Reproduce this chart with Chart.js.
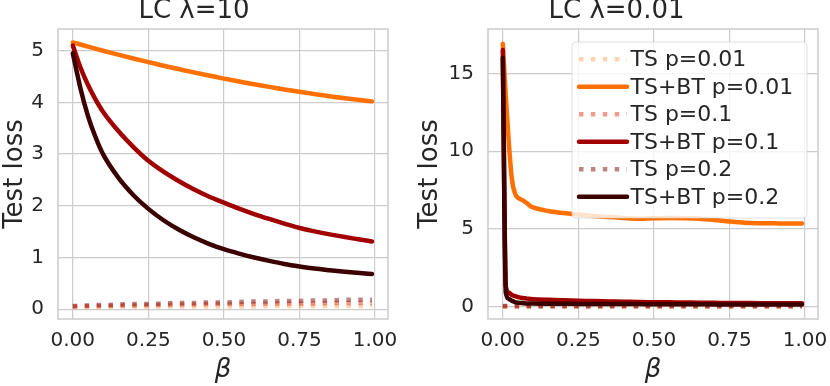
<!DOCTYPE html>
<html>
<head>
<meta charset="utf-8">
<script src="https://cdn.jsdelivr.net/npm/chart.js@4.4.1/dist/chart.umd.min.js"></script>
<style>
  html, body { margin: 0; padding: 0; background: #fff; }
  #wrap { position: relative; width: 830px; height: 386px; }
  canvas { position: absolute; top: 0; }
  #left { left: 0; }
  #right { left: 415px; }
</style>
</head>
<body>
<div id="wrap">
  <canvas id="left" width="415" height="386"></canvas>
  <canvas id="right" width="415" height="386"></canvas>
</div>
<script>
// Series names (legend order)
const seriesNames = ['TS p=0.01', 'TS+BT p=0.01', 'TS p=0.1', 'TS+BT p=0.1', 'TS p=0.2', 'TS+BT p=0.2'];

// Left panel: LC lambda=10
const betaLeft = [0, 0.025, 0.05, 0.075, 0.1, 0.15, 0.2, 0.25, 0.3, 0.35, 0.4, 0.45, 0.5, 0.55, 0.6, 0.65, 0.7, 0.75, 0.8, 0.85, 0.9, 0.95, 0.99];
const leftTS001   = [0.04, 0.04, 0.04, 0.04, 0.04, 0.05, 0.05, 0.05, 0.05, 0.05, 0.05, 0.05, 0.05, 0.05, 0.05, 0.06, 0.06, 0.06, 0.06, 0.06, 0.06, 0.06, 0.06];
const leftTSBT001 = [5.16, 5.12, 5.08, 5.04, 5.00, 4.925, 4.85, 4.78, 4.71, 4.645, 4.58, 4.52, 4.46, 4.405, 4.35, 4.30, 4.25, 4.205, 4.16, 4.12, 4.08, 4.045, 4.02];
const leftTS01    = [0.05, 0.05, 0.06, 0.06, 0.06, 0.07, 0.07, 0.08, 0.08, 0.09, 0.09, 0.10, 0.10, 0.10, 0.10, 0.11, 0.11, 0.11, 0.11, 0.12, 0.12, 0.12, 0.12];
const leftTSBT01  = [5.10, 4.68, 4.34, 4.06, 3.82, 3.45, 3.14, 2.87, 2.66, 2.48, 2.32, 2.18, 2.06, 1.945, 1.84, 1.745, 1.655, 1.57, 1.505, 1.447, 1.395, 1.348, 1.31];
const leftTS02    = [0.06, 0.07, 0.07, 0.08, 0.08, 0.09, 0.10, 0.10, 0.11, 0.12, 0.12, 0.13, 0.13, 0.14, 0.15, 0.15, 0.16, 0.16, 0.17, 0.17, 0.18, 0.18, 0.18];
const leftTSBT02  = [4.95, 4.28, 3.74, 3.33, 3.00, 2.55, 2.21, 1.94, 1.72, 1.54, 1.39, 1.265, 1.16, 1.075, 1.00, 0.934, 0.874, 0.826, 0.785, 0.754, 0.726, 0.70, 0.68];

// Right panel: LC lambda=0.01
const betaRight = [0, 0.01, 0.02, 0.03, 0.04, 0.05, 0.06, 0.07, 0.08, 0.09, 0.1, 0.15, 0.2, 0.25, 0.3, 0.35, 0.4, 0.45, 0.5, 0.55, 0.6, 0.65, 0.7, 0.75, 0.8, 0.85, 0.9, 0.95, 0.99];
const rightTS001   = [0.02, 0.02, 0.02, 0.02, 0.02, 0.02, 0.02, 0.02, 0.02, 0.02, 0.02, 0.02, 0.02, 0.02, 0.02, 0.02, 0.02, 0.02, 0.02, 0.02, 0.02, 0.02, 0.02, 0.02, 0.02, 0.02, 0.02, 0.02, 0.02];
const rightTSBT001 = [16.9, 13.5, 10.5, 8.2, 7.3, 7.0, 6.9, 6.78, 6.65, 6.48, 6.38, 6.15, 6.02, 5.92, 5.83, 5.76, 5.70, 5.66, 5.68, 5.70, 5.69, 5.66, 5.58, 5.48, 5.40, 5.37, 5.36, 5.35, 5.35];
const rightTS01    = [0.03, 0.03, 0.03, 0.03, 0.03, 0.03, 0.03, 0.03, 0.03, 0.03, 0.03, 0.03, 0.03, 0.03, 0.03, 0.03, 0.03, 0.03, 0.03, 0.03, 0.03, 0.03, 0.03, 0.03, 0.03, 0.03, 0.03, 0.03, 0.03];
const rightTSBT01  = [16.5, 1.3, 0.9, 0.75, 0.68, 0.62, 0.58, 0.55, 0.52, 0.5, 0.48, 0.44, 0.41, 0.39, 0.36, 0.34, 0.32, 0.3, 0.29, 0.28, 0.27, 0.26, 0.25, 0.24, 0.24, 0.23, 0.23, 0.22, 0.22];
const rightTS02    = [0.05, 0.05, 0.05, 0.05, 0.05, 0.05, 0.05, 0.05, 0.05, 0.05, 0.05, 0.05, 0.05, 0.05, 0.05, 0.05, 0.05, 0.05, 0.05, 0.05, 0.05, 0.05, 0.05, 0.05, 0.05, 0.05, 0.05, 0.05, 0.05];
const rightTSBT02  = [16.0, 0.9, 0.5, 0.38, 0.3, 0.26, 0.24, 0.22, 0.21, 0.2, 0.2, 0.19, 0.19, 0.18, 0.18, 0.17, 0.17, 0.17, 0.16, 0.16, 0.16, 0.16, 0.15, 0.15, 0.15, 0.15, 0.14, 0.14, 0.14];

// Tick labels
const xTicks = [0, 0.25, 0.5, 0.75, 1];
const yTicksLeft = [0, 1, 2, 3, 4, 5];
const yTicksRight = [0, 5, 10, 15];

const FONT = 'DejaVu Sans';
const TEXT = '#262626';
const GRID = '#cccccc';
const lineColors = [
    'rgba(255,114,0,0.3)',
    '#ff7000',
    'rgba(225,60,30,0.5)',
    '#a00000',
    'rgba(125,10,10,0.5)',
    '#3b0000'
];

function makeDatasets(beta, values) {
    return values.map((vals, i) => {
        const dotted = i % 2 === 0;
        return {
            label: seriesNames[i],
            data: beta.map((b, j) => ({ x: b, y: vals[j] })),
            borderColor: lineColors[i],
            backgroundColor: lineColors[i],
            borderWidth: 4.5,
            borderDash: dotted ? [4.5, 7.4] : [],
            borderCapStyle: dotted ? 'butt' : 'round',
            borderJoinStyle: 'round',
            pointRadius: 0,
            cubicInterpolationMode: 'monotone',
            order: values.length - i,
            fill: false
        };
    });
}

// frame around the plot area (all four sides light grey)
const frame = {
    id: 'frame',
    beforeDatasetsDraw(chart) {
        const a = chart.chartArea, ctx = chart.ctx;
        ctx.save();
        ctx.strokeStyle = GRID;
        ctx.lineWidth = 1.5;
        ctx.strokeRect(a.left, a.top, a.right - a.left, a.bottom - a.top);
        ctx.restore();
    }
};

// legend drawn inside the plot area, top right
const insideLegend = {
    id: 'insideLegend',
    afterDatasetsDraw(chart, args, opts) {
        if (!opts.show) return;
        const ctx = chart.ctx, a = chart.chartArea;
        const w = 235, h = 176, rowH = 27.5;
        const x0 = a.right - 11 - w, y0 = a.top + 13;
        ctx.save();
        ctx.beginPath();
        ctx.roundRect(x0, y0, w, h, 4);
        ctx.fillStyle = 'rgba(255,255,255,0.8)';
        ctx.fill();
        ctx.strokeStyle = 'rgba(204,204,204,0.6)';
        ctx.lineWidth = 1;
        ctx.stroke();
        chart.data.datasets.forEach((ds, i) => {
            const cy = y0 + 17.3 + i * rowH;
            ctx.beginPath();
            ctx.setLineDash(ds.borderDash);
            ctx.lineCap = ds.borderCapStyle;
            ctx.strokeStyle = ds.borderColor;
            ctx.lineWidth = ds.borderWidth;
            ctx.moveTo(x0 + 7, cy);
            ctx.lineTo(x0 + 55, cy);
            ctx.stroke();
            ctx.setLineDash([]);
            ctx.fillStyle = TEXT;
            ctx.font = '22px "' + FONT + '"';
            ctx.textBaseline = 'middle';
            ctx.textAlign = 'left';
            ctx.fillText(ds.label, x0 + 58.5, cy + 1);
        });
        ctx.restore();
    }
};

function makeChart(id, title, beta, values, yMin, yMax, yTicks, yWidth, padRight, showLegend) {
    const ctx = document.getElementById(id).getContext('2d');
    return new Chart(ctx, {
        type: 'line',
        data: { datasets: makeDatasets(beta, values) },
        options: {
            responsive: false,
            animation: false,
            layout: { padding: { top: 0, right: padRight, bottom: 0, left: 0 } },
            plugins: {
                legend: { display: false },
                tooltip: { enabled: false },
                title: {
                    display: true,
                    text: title,
                    color: TEXT,
                    font: { family: FONT, size: 26, weight: 'normal', lineHeight: 0.85 },
                    padding: { top: 0, bottom: 6.9 }
                },
                insideLegend: { show: showLegend }
            },
            scales: {
                x: {
                    type: 'linear',
                    min: -0.049,
                    max: 1.043,
                    afterBuildTicks: s => { s.ticks = xTicks.map(v => ({ value: v })); },
                    afterFit: s => { s.height = 67; s.paddingLeft = 0; s.paddingRight = 0; },
                    grid: { color: GRID, lineWidth: 1.2, drawTicks: false },
                    border: { display: false },
                    ticks: {
                        color: TEXT,
                        font: { family: FONT, size: 20 },
                        padding: 10,
                        maxRotation: 0,
                        autoSkip: false,
                        callback: v => Number(v).toFixed(2)
                    },
                    title: {
                        display: true,
                        text: 'β',
                        color: TEXT,
                        font: { family: FONT, size: 26, style: 'italic', lineHeight: 1.2 },
                        padding: 0
                    }
                },
                y: {
                    min: yMin,
                    max: yMax,
                    afterBuildTicks: s => { s.ticks = yTicks.map(v => ({ value: v })); },
                    afterFit: s => { s.width = yWidth; s.paddingTop = 0; s.paddingBottom = 0; },
                    grid: { color: GRID, lineWidth: 1.2, drawTicks: false },
                    border: { display: false },
                    ticks: {
                        color: TEXT,
                        font: { family: FONT, size: 20 },
                        padding: 14,
                        autoSkip: false
                    },
                    title: {
                        display: true,
                        text: 'Test loss',
                        color: TEXT,
                        font: { family: FONT, size: 26, lineHeight: 1.15 },
                        padding: 0
                    }
                }
            }
        },
        plugins: [frame, insideLegend]
    });
}

makeChart('left', 'LC λ=10', betaLeft,
    [leftTS001, leftTSBT001, leftTS01, leftTSBT01, leftTS02, leftTSBT02],
    -0.19, 5.42, yTicksLeft, 58, 27, false);

makeChart('right', 'LC λ=0.01', betaRight,
    [rightTS001, rightTSBT001, rightTS01, rightTSBT01, rightTS02, rightTSBT02],
    -0.79, 17.85, yTicksRight, 73, 12, true);
</script>
</body>
</html>
